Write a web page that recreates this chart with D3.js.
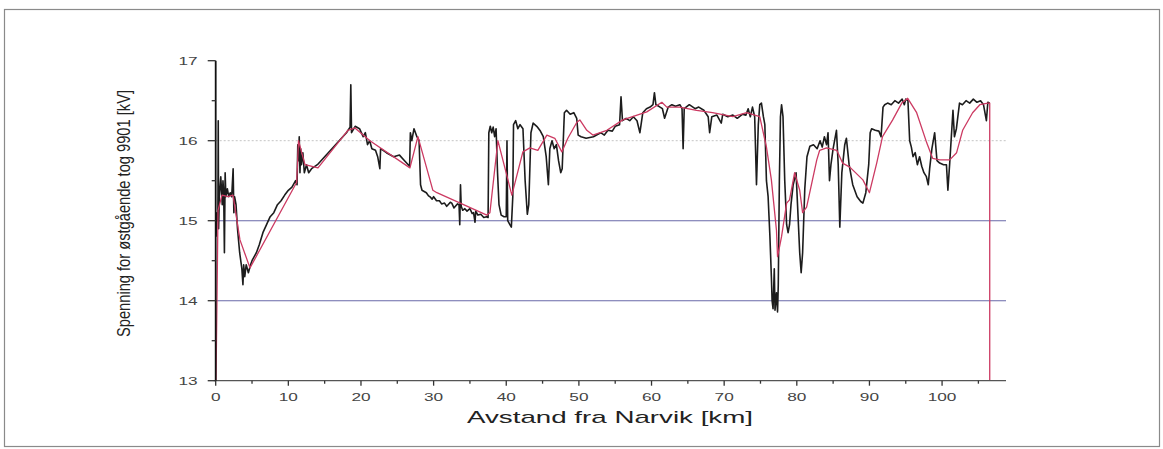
<!DOCTYPE html>
<html>
<head>
<meta charset="utf-8">
<script src="https://cdn.jsdelivr.net/npm/d3@7"></script>
<style>
  html, body { margin: 0; padding: 0; background: #fff; }
  svg { display: block; }
</style>
</head>
<body>
<svg id="chart" width="1163" height="449"></svg>
<script>
// Measured voltage along the line (km from Narvik, kV)
const measuredKm = [0.05,0.15,0.3,0.35,0.4,0.5,0.7,0.9,1.0,1.1,1.2,1.3,1.4,1.6,1.8,2.0,2.2,2.4,2.5,2.6,2.8,3.0,3.3,3.6,3.75,3.85,4.0,4.2,4.5,4.8,5.0,5.3,5.6,6.0,6.5,7.0,7.5,8.0,8.5,9.0,9.5,10.0,10.5,11.0,11.2,11.3,11.4,11.5,11.6,11.7,11.8,12.0,12.2,12.5,12.8,13.2,14.0,15.0,16.0,17.0,18.0,18.5,18.6,18.7,19.2,19.8,20.3,20.6,20.9,21.2,21.5,22.0,22.3,22.6,22.7,23.5,24.5,25.3,26.0,26.7,26.8,27.0,27.3,27.7,28.0,28.2,28.4,29.0,29.3,29.5,29.8,30.0,30.4,30.8,31.1,31.5,31.8,32.0,32.3,32.5,32.8,33.0,33.3,33.5,33.6,33.7,33.8,34.0,34.3,34.6,35.0,35.3,35.5,35.7,35.8,36.1,36.5,36.9,37.3,37.5,
  37.6,37.8,38.0,38.2,38.4,38.6,38.8,39.0,39.3,39.7,40.0,40.1,40.2,40.5,40.7,40.9,41.0,41.3,41.6,41.9,42.3,42.6,42.9,43.1,43.4,43.7,44.2,44.7,45.1,45.5,45.8,46.0,46.3,46.6,46.9,47.2,47.5,47.7,48.0,48.3,48.8,49.3,49.7,49.9,50.3,51.0,52.0,53.0,53.5,54.0,54.6,55.0,55.6,55.8,56.0,56.5,57.0,57.5,58.0,58.4,58.8,59.3,59.8,60.2,60.4,60.6,61.0,61.5,61.8,62.3,62.8,63.3,63.9,64.2,64.35,64.5,65.2,66.0,66.5,67.2,67.8,68.0,68.3,69.0,69.6,69.8,70.5,71.2,71.8,72.5,73.0,73.3,73.6,73.9,74.2,74.45,74.7,74.9,75.13,
  75.4,75.6,75.82,76.05,76.3,76.5,76.6,76.73,76.9,77.0,77.2,77.35,77.45,77.6,77.75,77.9,78.1,78.34,78.6,78.8,79.0,79.2,79.5,79.9,80.1,80.4,80.6,80.8,81.1,81.4,81.8,82.3,82.8,83.2,83.5,83.8,84.1,84.3,84.5,84.7,85.0,85.46,85.7,85.92,86.2,86.6,86.83,87.2,87.7,88.3,88.8,89.1,89.5,89.9,90.1,90.3,90.8,91.3,91.6,91.87,92.1,92.5,93.0,93.5,94.0,94.5,94.8,95.0,95.3,95.54,95.77,96.0,96.3,96.6,96.9,97.2,97.5,97.84,98.1,98.29,98.6,98.98,99.3,99.67,100.2,100.6,100.8,101.05,101.5,101.7,101.97,102.4,102.8,103.3,103.8,104.3,104.8,105.3,105.7,106.1,106.3,106.55];
const measuredKv = [14.8,15.1,15.0,16.25,14.9,15.3,15.55,15.2,15.5,15.35,14.6,15.6,15.3,15.4,15.3,15.35,15.3,15.65,15.1,15.3,15.2,14.9,14.6,14.4,14.2,14.45,14.3,14.45,14.35,14.45,14.5,14.55,14.6,14.7,14.85,14.95,15.05,15.1,15.2,15.25,15.32,15.38,15.42,15.5,15.45,15.95,15.75,16.05,15.6,15.9,15.7,15.85,15.6,15.7,15.6,15.65,15.7,15.8,15.9,16.0,16.1,16.17,16.7,16.1,16.18,16.15,16.05,16.1,15.95,16.0,15.9,15.88,15.8,15.65,15.9,15.85,15.8,15.82,15.75,15.68,16.1,16.0,16.15,16.05,16.0,15.45,15.38,15.35,15.31,15.3,15.27,15.3,15.25,15.25,15.21,15.22,15.18,15.2,15.23,15.22,15.16,15.18,15.21,15.2,14.95,15.45,15.18,15.13,15.15,15.12,15.15,15.09,15.1,14.98,15.12,15.07,15.08,15.04,15.05,15.04,
  16.1,16.18,16.1,16.17,16.05,16.15,15.6,15.2,15.07,15.05,15.05,16.0,15.0,14.95,14.92,15.3,16.2,16.25,16.15,16.2,16.15,15.5,15.08,15.2,16.1,16.22,16.18,16.12,16.05,15.8,15.45,15.9,16.0,15.9,15.95,15.75,15.6,15.65,16.35,16.38,16.33,16.35,16.28,16.07,16.05,16.03,16.05,16.1,16.07,16.13,16.12,16.18,16.2,16.55,16.25,16.28,16.25,16.3,16.25,16.1,16.35,16.4,16.42,16.45,16.6,16.45,16.43,16.4,16.28,16.42,16.45,16.43,16.45,16.4,15.9,16.4,16.45,16.4,16.42,16.38,16.3,16.1,16.3,16.32,16.22,16.33,16.3,16.32,16.28,16.33,16.32,16.4,16.3,16.42,16.3,15.45,16.2,16.45,16.47,
  16.3,16.2,15.5,15.3,14.8,14.3,14.0,13.9,14.4,13.88,14.1,13.86,14.2,15.5,16.3,16.45,16.3,15.5,14.95,14.85,14.95,15.2,15.45,15.6,15.2,14.6,14.35,14.6,15.4,15.8,15.93,15.95,15.9,16.0,15.92,16.05,15.95,16.1,15.5,15.7,15.9,16.13,15.7,14.92,15.6,15.95,16.03,15.7,15.45,15.3,15.24,15.22,15.35,15.7,16.1,16.15,16.13,16.12,16.05,16.42,16.45,16.47,16.45,16.5,16.47,16.52,16.45,16.52,16.5,16.0,15.92,15.8,15.85,15.7,15.8,15.68,15.6,15.55,15.45,15.65,15.9,16.1,15.75,15.72,15.7,15.7,15.38,15.72,16.38,16.05,16.15,16.47,16.45,16.5,16.47,16.52,16.48,16.5,16.45,16.25,16.48,16.47];

// Simulated voltage (km from Narvik, kV)
const simulatedKm = [0.04,0.32,0.87,1.69,2.38,3.34,4.72,11.15,11.4,12.29,14.08,18.2,19.17,21.23,26.74,27.84,29.9,30.45,37.33,37.75,38.85,40.77,42.29,43.25,44.35,45.59,46.69,47.65,48.48,49.72,50.13,51.09,51.92,53.85,56.05,59.35,61.42,62.1,63.89,66.2,68.4,71.2,73.1,74.9,75.82,76.5,77.2,77.35,77.9,78.6,79.0,79.7,80.4,80.8,81.35,82.75,83.15,84.1,85.5,86.3,87.3,89.1,90.0,91.0,91.8,93.2,94.45,95.27,96.5,97.9,98.7,99.67,101.05,102.0,102.83,104.2,105.2,106.3,106.56,106.56];
const simulatedKv = [13.0,15.13,15.32,15.3,15.32,14.76,14.41,15.48,16.0,15.7,15.66,16.13,16.16,16.0,15.66,16.05,15.38,15.35,15.07,15.1,16.0,15.32,15.86,15.91,15.88,16.07,16.03,15.86,16.03,16.23,16.26,16.13,16.07,16.13,16.26,16.36,16.48,16.42,16.42,16.38,16.35,16.3,16.35,16.3,15.92,15.51,14.88,14.55,14.8,15.22,15.26,15.6,15.38,15.1,15.17,15.76,15.88,15.91,15.88,15.72,15.67,15.51,15.35,15.72,16.05,16.26,16.47,16.53,16.35,15.97,15.78,15.76,15.76,15.85,16.13,16.35,16.45,16.47,16.47,13.0];

const xTicks = [0,10,20,30,40,50,60,70,80,90,100];
const xMinorTicks = [5,15,25,35,45,55,65,75,85,95,105];
const yTicks = [13,14,15,16,17];
const yMinorTicks = [13.5,14.5,15.5,16.5];
const xTitle = "Avstand fra Narvik [km]";
const yTitle = "Spenning for østgående tog 9901 [kV]";

const svg = d3.select("#chart");

// outer frame
svg.append("rect")
  .attr("x", 4.5).attr("y", 9.5).attr("width", 1155).attr("height", 437)
  .attr("fill", "none").attr("stroke", "#8a8a8a").attr("stroke-width", 1.2);

const x = d3.scaleLinear().domain([0, 108.8]).range([215.7, 1006]);
const y = d3.scaleLinear().domain([13, 17]).range([380.7, 60.7]);

// reference lines
const grid = svg.append("g");
grid.append("line")
  .attr("x1", x(0)).attr("x2", x(108.8)).attr("y1", y(16)).attr("y2", y(16))
  .attr("stroke", "#c4c4c4").attr("stroke-width", 1).attr("stroke-dasharray", "2,2");
[15, 14].forEach(v => {
  grid.append("line")
    .attr("x1", x(0)).attr("x2", x(108.8)).attr("y1", y(v)).attr("y2", y(v))
    .attr("stroke", "#6868a8").attr("stroke-width", 1.1);
});

// data lines
const lineGen = d3.line().x(d => x(d[0])).y(d => y(d[1]));
const measured = measuredKm.map((k, i) => [k, measuredKv[i]]);
const simulated = simulatedKm.map((k, i) => [k, simulatedKv[i]]);

svg.append("path").datum(measured)
  .attr("d", lineGen).attr("fill", "none")
  .attr("stroke", "#1c1c1c").attr("stroke-width", 1.6).attr("stroke-linejoin", "round");
svg.append("path").datum(simulated)
  .attr("d", lineGen).attr("fill", "none")
  .attr("stroke", "#cc3a62").attr("stroke-width", 1.3).attr("stroke-linejoin", "round");

// x axis
const xAxisG = svg.append("g").attr("transform", `translate(0,${y(13)})`);
xAxisG.append("line").attr("x1", x(0) - 2).attr("x2", x(108.8)).attr("y1", 0).attr("y2", 0)
  .attr("stroke", "#555").attr("stroke-width", 1.3);
xAxisG.selectAll(".maj").data(xTicks).enter().append("line")
  .attr("x1", d => x(d)).attr("x2", d => x(d)).attr("y1", 0).attr("y2", 5)
  .attr("stroke", "#333").attr("stroke-width", 1.3);
xAxisG.selectAll(".min").data(xMinorTicks).enter().append("line")
  .attr("x1", d => x(d)).attr("x2", d => x(d)).attr("y1", 0).attr("y2", 3)
  .attr("stroke", "#333").attr("stroke-width", 1.3);
xAxisG.selectAll(".lbl").data(xTicks).enter().append("text")
  .attr("transform", d => `translate(${x(d)},20) scale(1.5,1)`)
  .attr("text-anchor", "middle")
  .attr("font-family", "Liberation Sans, Arial, sans-serif")
  .attr("font-size", 11.5).attr("fill", "#444")
  .text(d => d);

// y axis
const yAxisG = svg.append("g").attr("transform", `translate(${x(0)},0)`);
yAxisG.append("line").attr("x1", 0).attr("x2", 0).attr("y1", y(17)).attr("y2", y(13))
  .attr("stroke", "#111").attr("stroke-width", 1.8);
yAxisG.selectAll(".maj").data(yTicks).enter().append("line")
  .attr("x1", -8).attr("x2", 0).attr("y1", d => y(d)).attr("y2", d => y(d))
  .attr("stroke", "#333").attr("stroke-width", 1.3);
yAxisG.selectAll(".min").data(yMinorTicks).enter().append("line")
  .attr("x1", -4).attr("x2", 0).attr("y1", d => y(d)).attr("y2", d => y(d))
  .attr("stroke", "#333").attr("stroke-width", 1.3);
yAxisG.selectAll(".lbl").data(yTicks).enter().append("text")
  .attr("transform", d => `translate(-18,${y(d) + 4}) scale(1.5,1)`)
  .attr("text-anchor", "end")
  .attr("font-family", "Liberation Sans, Arial, sans-serif")
  .attr("font-size", 11.5).attr("fill", "#444")
  .text(d => d);

// axis titles
svg.append("text")
  .attr("x", 467).attr("y", 423)
  .attr("textLength", 286).attr("lengthAdjust", "spacingAndGlyphs")
  .attr("font-family", "Liberation Sans, Arial, sans-serif")
  .attr("font-size", 17).attr("fill", "#222")
  .text(xTitle);

svg.append("text")
  .attr("transform", "translate(130,337) rotate(-90)")
  .attr("textLength", 247).attr("lengthAdjust", "spacingAndGlyphs")
  .attr("font-family", "Liberation Sans, Arial, sans-serif")
  .attr("font-size", 18).attr("fill", "#222")
  .text(yTitle);
</script>
</body>
</html>
